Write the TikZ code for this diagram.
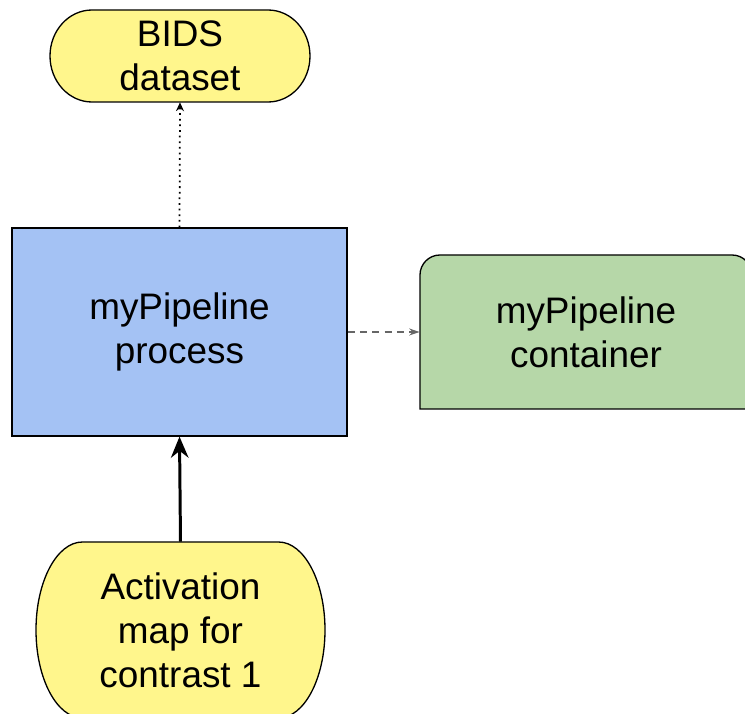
\documentclass[tikz,border=0pt]{standalone}
\usepackage{fontspec}
\setmainfont{Liberation Sans}
\usetikzlibrary{arrows.meta}
\definecolor{procblue}{HTML}{A4C2F4}
\definecolor{contgreen}{HTML}{B6D7A8}
\definecolor{datayellow}{HTML}{FFF68C}
\definecolor{linkgray}{HTML}{666666}

\begin{document}
\begin{tikzpicture}[x=0.02cm,y=0.02cm]
\tikzstyle{boxtext}=[align=center,font=\fontsize{21}{25}\selectfont,inner sep=0pt]
\tikzstyle{shapeline}=[draw=black,line width=0.75pt]
\useasboundingbox (0,0) rectangle (745,714);
% outlines drawn first, text nodes on top
\draw[shapeline,fill=datayellow] (92,704) -- (268,704) arc[start angle=90,end angle=-90,x radius=42,y radius=46]
  -- (92,612) arc[start angle=270,end angle=90,x radius=42,y radius=46] -- cycle;
\draw[shapeline,fill=contgreen] (420,305) -- (420,439) arc[start angle=180,end angle=90,radius=20]
  -- (732,459) arc[start angle=90,end angle=0,radius=20] -- (752,305) -- cycle;
\draw[shapeline,fill=datayellow] (82.5,172) -- (278.5,172) arc[start angle=90,end angle=-90,x radius=46.5,y radius=88]
  -- (82.5,-4) arc[start angle=270,end angle=90,x radius=46.5,y radius=88] -- cycle;
\node[boxtext,minimum width=5.2cm,minimum height=1.84cm] (bids) at (180,658) {BIDS\\dataset};
\node[boxtext,shapeline,fill=procblue,minimum width=6.7cm,minimum height=4.16cm] (process) at (179.5,382) {myPipeline\\process};
\node[boxtext,minimum width=6.64cm,minimum height=3.08cm] (container) at (586,382) {myPipeline\\container};
\node[boxtext,minimum width=5.78cm,minimum height=3.52cm] (contrast) at (180.5,84) {Activation\\map for\\contrast 1};
\draw[line width=1pt,dash pattern=on 1pt off 2.2pt,-{Stealth[length=5pt,width=4.5pt]}] (process.north) -- (bids.south);
\draw[linkgray,dash pattern=on 4pt off 3pt,line width=0.75pt,-{Stealth[length=6pt,width=4pt]}] (process.east) -- (container.west);
\draw[line width=1.7pt,-{Stealth[length=12pt,width=10pt]}] (contrast.north) -- (process.south);
\end{tikzpicture}
\end{document}
